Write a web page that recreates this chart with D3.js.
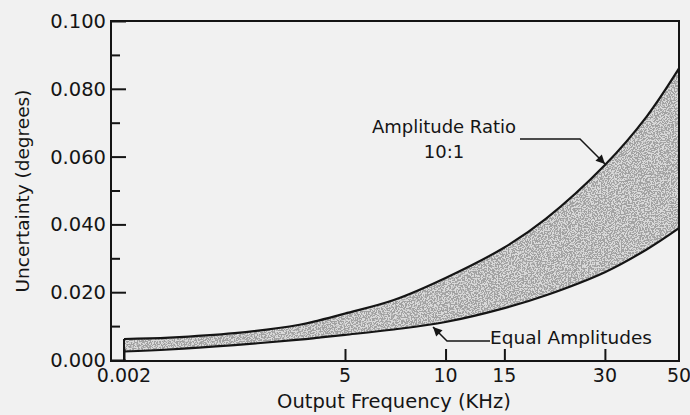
<!DOCTYPE html>
<html><head><meta charset="utf-8">
<script src="https://cdn.jsdelivr.net/npm/d3@7"></script>
<style>
html,body{margin:0;padding:0;background:#f1f1f1;}
svg{display:block;font-family:"DejaVu Sans","Liberation Sans",Arial,sans-serif;}
</style></head><body>
<svg id="chart" width="690" height="415"></svg>
<script>
// Data
const freqs      = [0.002, 0.01, 0.1, 1, 2, 5, 7, 10, 15, 20, 30, 40, 50];
const ratio10to1 = [0.0062, 0.0066, 0.0079, 0.0104, 0.0117, 0.0137, 0.0177, 0.0242, 0.0332, 0.0417, 0.0575, 0.0718, 0.0860];
const equalAmp   = [0.0025, 0.0031, 0.0044, 0.0060, 0.0066, 0.0074, 0.0090, 0.0112, 0.0153, 0.0191, 0.0259, 0.0326, 0.0389];
const xTickVals  = [0.002, 5, 10, 15, 30, 50];
const xTickLabels= ["0.002", "5", "10", "15", "30", "50"];
const yMajor     = [0, 0.02, 0.04, 0.06, 0.08, 0.1];
const yMinor     = [0.01, 0.03, 0.05, 0.07, 0.09];
const yTickLabels= ["0.000", "0.020", "0.040", "0.060", "0.080", "0.100"];

const svg = d3.select("#chart");
const L = 111, R = 679, T = 21, B = 361;
const INK = "#151515";

// Broken axis: log segments, compressed below 5 kHz
const x = d3.scaleLog().domain([0.002, 5, 50]).range([124, 345, 679]);
const y = d3.scaleLinear().domain([0, 0.1]).range([360, 21]);

const defs = svg.append("defs");
const f = defs.append("filter").attr("id","speckle").attr("x",0).attr("y",0).attr("width","100%").attr("height","100%");
f.append("feTurbulence").attr("type","fractalNoise").attr("baseFrequency","0.7").attr("numOctaves",2).attr("seed",5).attr("result","n");
f.append("feColorMatrix").attr("in","n").attr("type","matrix")
  .attr("values","0 0 0 0 0.3  0 0 0 0 0.3  0 0 0 0 0.3  0 0 0 -10 5.6").attr("result","dots");
f.append("feComposite").attr("in","dots").attr("in2","SourceGraphic").attr("operator","in");

const data = freqs.map((fq,i)=>({f:fq, hi:ratio10to1[i], lo:equalAmp[i]}));
const curve = d3.curveCatmullRom.alpha(0.5);
const area = d3.area().x(d=>x(d.f)).y0(d=>y(d.lo)).y1(d=>y(d.hi)).curve(curve);
svg.append("path").datum(data).attr("d",area).attr("fill","#dadada");
svg.append("path").datum(data).attr("d",area).attr("fill","#000").attr("filter","url(#speckle)").attr("opacity",0.8);

const line = d3.line().x(d=>x(d.f)).curve(curve);
svg.append("path").datum(data).attr("d",line.y(d=>y(d.hi))).attr("fill","none").attr("stroke",INK).attr("stroke-width",2.2);
svg.append("path").datum(data).attr("d",line.y(d=>y(d.lo))).attr("fill","none").attr("stroke",INK).attr("stroke-width",2.2);
// left edge of band
svg.append("line").attr("x1",x(freqs[0])).attr("x2",x(freqs[0])).attr("y1",y(ratio10to1[0])).attr("y2",B)
  .attr("stroke",INK).attr("stroke-width",2);

// Frame
svg.append("rect").attr("x",L).attr("y",T).attr("width",R-L).attr("height",B-T)
  .attr("fill","none").attr("stroke",INK).attr("stroke-width",2);

// Y axis ticks (inward)
const yAxis = d3.axisRight(y).tickValues(yMajor).tickSize(15).tickFormat("");
const gy = svg.append("g").attr("transform",`translate(${L},0)`).call(yAxis);
gy.select(".domain").remove();
gy.selectAll("line").attr("stroke",INK).attr("stroke-width",2);
const yAxisMinor = d3.axisRight(y).tickValues(yMinor).tickSize(9).tickFormat("");
const gym = svg.append("g").attr("transform",`translate(${L},0)`).call(yAxisMinor);
gym.select(".domain").remove();
gym.selectAll("line").attr("stroke",INK).attr("stroke-width",2);
svg.append("g").selectAll("text").data(yMajor).join("text")
  .attr("x",106).attr("y",d=>y(d)+7).attr("text-anchor","end")
  .attr("font-size",19.5).attr("fill",INK).text((d,i)=>yTickLabels[i]);

// X axis ticks (inward, up)
const xAxis = d3.axisTop(x).tickValues(xTickVals.slice(0,-1)).tickSize(12).tickFormat("");
const gx = svg.append("g").attr("transform",`translate(0,${B})`).call(xAxis);
gx.select(".domain").remove();
gx.selectAll("line").attr("stroke",INK).attr("stroke-width",2);
svg.append("g").selectAll("text").data(xTickVals).join("text")
  .attr("x",d=>x(d)).attr("y",382).attr("text-anchor","middle")
  .attr("font-size",19).attr("fill",INK).text((d,i)=>xTickLabels[i]);

// Axis titles
svg.append("text").attr("x",394).attr("y",408).attr("text-anchor","middle")
  .attr("font-size",19.5).attr("fill",INK).text("Output Frequency (KHz)");
svg.append("text").attr("transform","translate(29,191) rotate(-90)").attr("text-anchor","middle")
  .attr("font-size",18.5).attr("fill",INK).text("Uncertainty (degrees)");

// Annotations
const arrowDefs = defs.append("marker").attr("id","arr").attr("viewBox","0 0 10 10").attr("refX",10).attr("refY",5)
  .attr("markerWidth",10).attr("markerHeight",9).attr("markerUnits","userSpaceOnUse").attr("orient","auto");
arrowDefs.append("path").attr("d","M0,0 L10,5 L0,10 z").attr("fill",INK);

svg.append("text").attr("x",444).attr("y",133).attr("text-anchor","middle").attr("font-size",18).attr("fill",INK).text("Amplitude Ratio");
svg.append("text").attr("x",444).attr("y",158).attr("text-anchor","middle").attr("font-size",18).attr("fill",INK).text("10:1");
svg.append("path").attr("d","M520,139 L580,139 L605,164").attr("fill","none").attr("stroke",INK).attr("stroke-width",1.5).attr("marker-end","url(#arr)");

svg.append("text").attr("x",490).attr("y",344).attr("font-size",18.5).attr("fill",INK).text("Equal Amplitudes");
svg.append("path").attr("d","M490,341 L447,341 L433,327").attr("fill","none").attr("stroke",INK).attr("stroke-width",1.5).attr("marker-end","url(#arr)");
</script>
</body></html>
